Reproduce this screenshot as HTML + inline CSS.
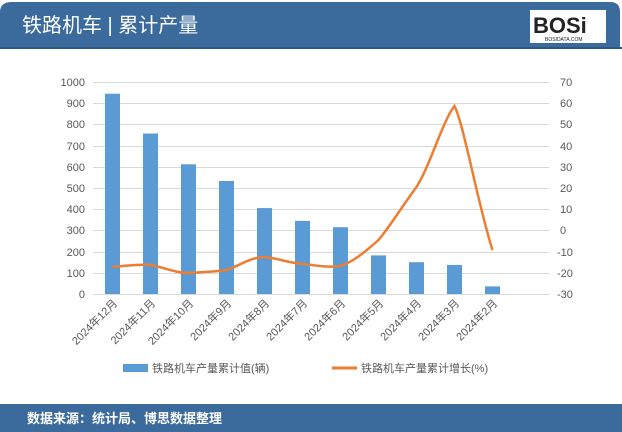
<!DOCTYPE html>
<html><head><meta charset="utf-8"><style>
body{margin:0;background:#fff;}
svg{display:block;font-family:"Liberation Sans","Noto Sans CJK SC",sans-serif;}
</style></head><body>
<svg width="622" height="432" viewBox="0 0 622 432">
<rect x="0" y="0" width="622" height="432" fill="#fff"/>
<path d="M0,48 V12 Q0,2 12,2 H610 Q620,2 620,12 V48 Z" fill="#3b6a9c"/>
<rect x="0" y="47" width="622" height="2" fill="#2c5888"/>
<text x="22" y="32" font-size="20" fill="#fff">铁路机车 | 累计产量</text>
<rect x="530" y="10" width="76" height="33" fill="#fff"/>
<text x="533" y="33" font-size="22" font-weight="bold" fill="#222" font-family="Liberation Sans,sans-serif">BOSi</text>
<text x="545" y="41" font-size="5" fill="#222">BOSIDATA.COM</text>
<rect x="0" y="404" width="622" height="28" fill="#3b6a9c"/>
<text x="27" y="423" font-size="13" font-weight="bold" fill="#fff">数据来源：统计局、博思数据整理</text>
<g stroke="#d9d9d9" stroke-width="1">
<line x1="93" x2="549" y1="82.5" y2="82.5"/><line x1="93" x2="549" y1="103.5" y2="103.5"/>
<line x1="93" x2="549" y1="124.5" y2="124.5"/><line x1="93" x2="549" y1="146.5" y2="146.5"/>
<line x1="93" x2="549" y1="167.5" y2="167.5"/><line x1="93" x2="549" y1="188.5" y2="188.5"/>
<line x1="93" x2="549" y1="209.5" y2="209.5"/><line x1="93" x2="549" y1="230.5" y2="230.5"/>
<line x1="93" x2="549" y1="252.5" y2="252.5"/><line x1="93" x2="549" y1="273.5" y2="273.5"/>
<line x1="93" x2="549" y1="294.5" y2="294.5"/>
</g>
<g font-size="11" fill="#595959" text-anchor="end">
<text x="85" y="86">1000</text><text x="85" y="107">900</text><text x="85" y="128">800</text>
<text x="85" y="150">700</text><text x="85" y="171">600</text><text x="85" y="192">500</text>
<text x="85" y="213">400</text><text x="85" y="234">300</text><text x="85" y="256">200</text>
<text x="85" y="277">100</text><text x="85" y="298">0</text>
</g>
<g font-size="11" fill="#595959" text-anchor="start">
<text x="560" y="86">70</text><text x="560" y="107">60</text><text x="560" y="128">50</text>
<text x="560" y="150">40</text><text x="560" y="171">30</text><text x="560" y="192">20</text>
<text x="560" y="213">10</text><text x="560" y="234">0</text><text x="557" y="256">-10</text>
<text x="557" y="277">-20</text><text x="557" y="298">-30</text>
</g>
<g fill="#5b9bd5">
<rect x="105" y="93.7" width="15" height="200.3"/>
<rect x="143" y="133.5" width="15" height="160.5"/>
<rect x="181" y="164.3" width="15" height="129.7"/>
<rect x="219" y="181" width="15" height="113"/>
<rect x="257" y="208.1" width="15" height="85.9"/>
<rect x="295" y="220.9" width="15" height="73.1"/>
<rect x="333" y="227.2" width="15" height="66.8"/>
<rect x="371" y="255.4" width="15" height="38.6"/>
<rect x="409" y="262.2" width="15" height="31.8"/>
<rect x="447" y="265" width="15" height="29"/>
<rect x="485" y="286.4" width="15" height="7.6"/>
</g>
<path d="M112.5,267 C125,266 137,264 150.5,265 C163,267 175,273 188.5,273 C201,272 213,272 226.5,270 C239,266 251,257 264.5,257 C277,258 289,263 302.5,264 C315,265 327,268 340.5,266 C353,262 365,252 378.5,240 C391,225 403,205 416.5,187 C430,166 443,120 454.5,106 C464,125 478,205 492.5,250" fill="none" stroke="#ed7d31" stroke-width="2.5"/>
<g font-size="11" fill="#595959" text-anchor="end">
<text transform="translate(118,304) rotate(-45)">2024年12月</text>
<text transform="translate(156,304) rotate(-45)">2024年11月</text>
<text transform="translate(194,304) rotate(-45)">2024年10月</text>
<text transform="translate(232,304) rotate(-45)">2024年9月</text>
<text transform="translate(270,304) rotate(-45)">2024年8月</text>
<text transform="translate(308,304) rotate(-45)">2024年7月</text>
<text transform="translate(346,304) rotate(-45)">2024年6月</text>
<text transform="translate(384,304) rotate(-45)">2024年5月</text>
<text transform="translate(422,304) rotate(-45)">2024年4月</text>
<text transform="translate(460,304) rotate(-45)">2024年3月</text>
<text transform="translate(498,304) rotate(-45)">2024年2月</text>
</g>
<rect x="123" y="364" width="25" height="8" fill="#5b9bd5"/>
<text x="152" y="372" font-size="11" fill="#595959">铁路机车产量累计值(辆)</text>
<line x1="332" x2="357" y1="368" y2="368" stroke="#ed7d31" stroke-width="3"/>
<text x="361" y="372" font-size="11" fill="#595959">铁路机车产量累计增长(%)</text>
</svg>
</body></html>
